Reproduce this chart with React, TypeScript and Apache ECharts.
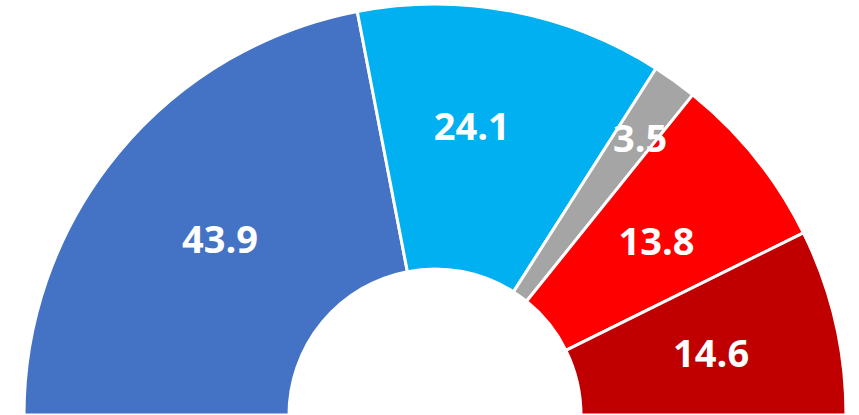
import React, { useEffect, useRef } from "react";
import * as echarts from "echarts";

const categories = ["A", "B", "C", "D", "E"];
const values = [43.9, 24.1, 3.5, 13.8, 14.6];
const colors = ["#4472C4", "#00B0F0", "#A5A5A5", "#FF0000", "#C00000"];
// manual label nudges (px) like the reference's moved labels
const labelShiftX = [2, -16, 41, 2, 2];
const labelShiftY = [2, -13, -49, 1, 1];

export default function App() {
  const ref = useRef<HTMLDivElement>(null);
  useEffect(() => {
    if (!ref.current) return;
    const chart = echarts.init(ref.current, undefined, { renderer: "svg" });
    chart.setOption({
      animation: false,
      series: [
        {
          type: "pie",
          center: [435, 415],
          radius: [146, 411],
          startAngle: 180,
          endAngle: 0,
          clockwise: true,
          silent: true,
          emphasis: { disabled: true },
          itemStyle: { borderColor: "#FFFFFF", borderWidth: 3 },
          label: {
            show: true,
            position: "inside",
            formatter: "{c}",
            color: "#FFFFFF",
            fontSize: 38,
            fontWeight: "bold",
            fontFamily: "'Open Sans', 'Noto Sans', sans-serif",
          },
          labelLine: { show: false },
          labelLayout: (p: any) => ({
            dx: labelShiftX[p.dataIndex] || 0,
            dy: labelShiftY[p.dataIndex] || 0,
          }),
          data: categories.map((name, i) => ({
            name,
            value: values[i],
            itemStyle: { color: colors[i] },
          })),
        },
      ],
    });
    return () => chart.dispose();
  }, []);
  return (
    <div
      ref={ref}
      style={{ position: "fixed", left: 0, top: 0, width: 859, height: 415, background: "#fff" }}
    />
  );
}
